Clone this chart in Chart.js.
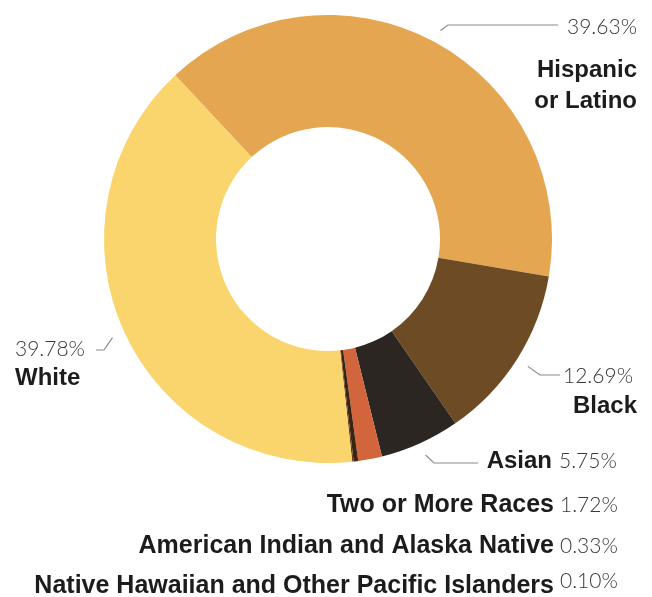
<!DOCTYPE html>
<html>
<head>
<meta charset="utf-8">
<script src="https://cdn.jsdelivr.net/npm/chart.js@4.4.1/dist/chart.umd.min.js"></script>
<style>
    body { margin: 0; background: #ffffff; }
    #caixa { width: 652px; height: 597px; position: relative; }
</style>
</head>
<body>
<div id="caixa"><canvas id="graficoRacas"></canvas></div>
<script>
// Grupos, em ordem horária a partir do topo-esquerdo
const grupos = [
    "Hispanic or Latino",
    "Black",
    "Asian",
    "Two or More Races",
    "American Indian and Alaska Native",
    "Native Hawaiian and Other Pacific Islanders",
    "White"
];
const percentuais = [39.63, 12.69, 5.75, 1.72, 0.33, 0.10, 39.78];
const cores = [
    "#E4A651", // laranja claro
    "#6D4B24", // marrom
    "#2B2622", // quase preto
    "#D2653B", // laranja avermelhado
    "#3A2512", // marrom escuro
    "#6B3A1A",
    "#FAD56D"  // amarelo
];

const fonteNegrito = "bold 24px 'Liberation Sans', Arial, sans-serif";
const fonteNegritoLonga = "bold 25px 'Liberation Sans', Arial, sans-serif";
const fonteNumero = "300 21px Lato, 'Open Sans', sans-serif";
const corLinha = "#8c8c8c";

// Onde cada rótulo fica (linhas do nome e do valor) e a linha guia, quando existe
const rotulos = [
    { i: 0, textos: [
        { t: "39.63%", x: 637, y: 34, al: "right", f: fonteNumero },
        { t: "Hispanic", x: 637, y: 77, al: "right", f: fonteNegrito },
        { t: "or Latino", x: 637, y: 108, al: "right", f: fonteNegrito }
      ], guia: [[448, 25], [558, 25]] },
    { i: 6, textos: [
        { t: "39.78%", x: 15, y: 356, al: "left", f: fonteNumero },
        { t: "White", x: 15, y: 385, al: "left", f: fonteNegrito }
      ], guia: [[104, 350], [96, 350]] },
    { i: 1, textos: [
        { t: "12.69%", x: 633, y: 383, al: "right", f: fonteNumero },
        { t: "Black", x: 637, y: 413, al: "right", f: fonteNegrito }
      ], guia: [[540, 375], [560, 375]] },
    { i: 2, textos: [
        { t: "Asian", x: 552, y: 468, al: "right", f: fonteNegrito },
        { t: "5.75%", x: 559, y: 468, al: "left", f: fonteNumero }
      ], guia: [[434, 463], [478, 463]] },
    { i: 3, textos: [
        { t: "Two or More Races", x: 554, y: 512, al: "right", f: fonteNegritoLonga },
        { t: "1.72%", x: 560, y: 512, al: "left", f: fonteNumero }
      ] },
    { i: 4, textos: [
        { t: "American Indian and Alaska Native", x: 554, y: 553, al: "right", f: fonteNegritoLonga },
        { t: "0.33%", x: 560, y: 553, al: "left", f: fonteNumero }
      ] },
    { i: 5, textos: [
        { t: "Native Hawaiian and Other Pacific Islanders", x: 554, y: 593, al: "right", f: fonteNegritoLonga },
        { t: "0.10%", x: 560, y: 588, al: "left", f: fonteNumero }
      ] }
];

// Desenha os rótulos e as linhas guia saindo do meio de cada fatia
const pluginRotulos = {
    id: "rotulos",
    afterDatasetsDraw(chart) {
        const ctx = chart.ctx;
        const meta = chart.getDatasetMeta(0);
        ctx.save();
        rotulos.forEach((r) => {
            if (r.guia) {
                const arco = meta.data[r.i].getProps(["x", "y", "startAngle", "endAngle", "outerRadius"], true);
                const meio = (arco.startAngle + arco.endAngle) / 2;
                const raio = arco.outerRadius + 13;
                ctx.beginPath();
                ctx.moveTo(arco.x + Math.cos(meio) * raio, arco.y + Math.sin(meio) * raio);
                r.guia.forEach((p) => ctx.lineTo(p[0], p[1]));
                ctx.strokeStyle = corLinha;
                ctx.lineWidth = 1.2;
                ctx.stroke();
            }
            r.textos.forEach((txt) => {
                ctx.font = txt.f;
                ctx.textAlign = txt.al;
                ctx.textBaseline = "alphabetic";
                ctx.fillStyle = txt.f === fonteNumero ? "#3a3a3a" : "#1c1c1c";
                ctx.fillText(txt.t, txt.x, txt.y);
            });
        });
        ctx.restore();
    }
};

const contexto = document.getElementById("graficoRacas").getContext("2d");
new Chart(contexto, {
    type: "doughnut",
    data: {
        labels: grupos,
        datasets: [
            {
                data: percentuais,
                backgroundColor: cores,
                borderWidth: 0
            }
        ]
    },
    options: {
        responsive: true,
        maintainAspectRatio: false,
        animation: false,
        events: [],
        rotation: -43,
        cutout: "50%",
        layout: { padding: { left: 104, right: 100, top: 15, bottom: 134 } },
        plugins: {
            legend: { display: false },
            tooltip: { enabled: false }
        }
    },
    plugins: [pluginRotulos]
});
</script>
</body>
</html>
